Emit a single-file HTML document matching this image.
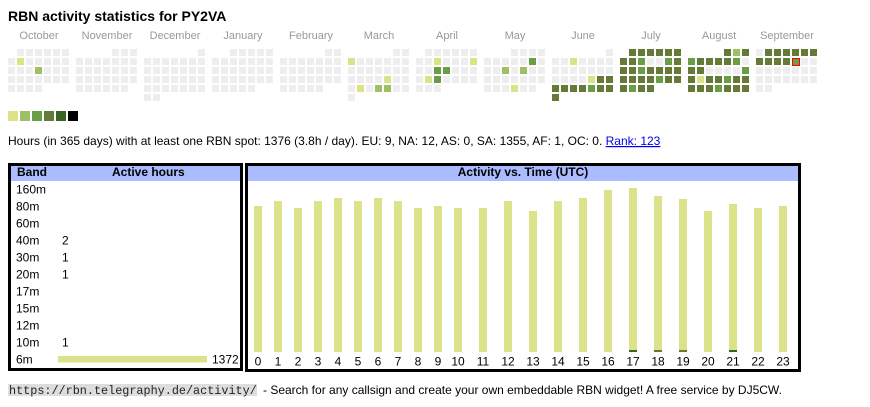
<!DOCTYPE html>
<html><head><meta charset="utf-8"><style>
html,body{margin:0;padding:0;background:#fff;width:870px;height:407px;overflow:hidden}
svg{display:block}
text{font-family:"Liberation Sans",Arial,sans-serif}
</style></head><body>
<svg width="870" height="407" viewBox="0 0 870 407" xmlns="http://www.w3.org/2000/svg">
<defs>
<pattern id="g" width="9" height="9" patternUnits="userSpaceOnUse"><rect width="7" height="7" fill="#eeeeee"/></pattern>
<pattern id="o" width="9" height="9" patternUnits="userSpaceOnUse"><rect width="7" height="7" fill="#667a38"/></pattern>
</defs>
<rect width="870" height="407" fill="#fff"/>
<text x="8" y="21" font-size="14" font-weight="bold" fill="#000">RBN activity statistics for PY2VA</text>
<g font-size="11" fill="#999" text-anchor="middle">
<text x="39" y="39">October</text><text x="107" y="39">November</text><text x="175" y="39">December</text><text x="243" y="39">January</text>
<text x="311" y="39">February</text><text x="379" y="39">March</text><text x="447" y="39">April</text><text x="515" y="39">May</text>
<text x="583" y="39">June</text><text x="651" y="39">July</text><text x="719" y="39">August</text><text x="787" y="39">September</text>
</g>
<!-- Oct -->
<g transform="translate(8,49)" fill="url(#g)"><rect x="9" y="0" width="52" height="7"/><rect x="0" y="9" width="61" height="25"/><rect x="0" y="36" width="34" height="7"/>
<rect x="9" y="9" width="7" height="7" fill="#dce28a"/><rect x="27" y="18" width="7" height="7" fill="#9dc066"/></g>
<!-- Nov -->
<g transform="translate(76,49)" fill="url(#g)"><rect x="36" y="0" width="25" height="7"/><rect x="0" y="9" width="61" height="25"/><rect x="0" y="36" width="52" height="7"/></g>
<!-- Dec -->
<g transform="translate(144,49)" fill="url(#g)"><rect x="54" y="0" width="7" height="7"/><rect x="0" y="9" width="61" height="34"/><rect x="0" y="45" width="16" height="7"/></g>
<!-- Jan -->
<g transform="translate(212,49)" fill="url(#g)"><rect x="18" y="0" width="43" height="7"/><rect x="0" y="9" width="61" height="25"/><rect x="0" y="36" width="43" height="7"/></g>
<!-- Feb -->
<g transform="translate(280,49)" fill="url(#g)"><rect x="45" y="0" width="16" height="7"/><rect x="0" y="9" width="61" height="25"/><rect x="0" y="36" width="43" height="7"/></g>
<!-- Mar -->
<g transform="translate(348,49)" fill="url(#g)"><rect x="45" y="0" width="16" height="7"/><rect x="0" y="9" width="61" height="34"/><rect x="0" y="45" width="7" height="7"/>
<rect x="0" y="9" width="7" height="7" fill="#dce28a"/><rect x="36" y="27" width="7" height="7" fill="#dce28a"/><rect x="9" y="36" width="7" height="7" fill="#dce28a"/>
<rect x="27" y="36" width="7" height="7" fill="#9dc066"/><rect x="36" y="36" width="7" height="7" fill="#9dc066"/></g>
<!-- Apr -->
<g transform="translate(416,49)" fill="url(#g)"><rect x="9" y="0" width="52" height="7"/><rect x="0" y="9" width="61" height="25"/><rect x="0" y="36" width="25" height="7"/>
<rect x="18" y="9" width="7" height="7" fill="#dce28a"/><rect x="54" y="9" width="7" height="7" fill="#dce28a"/><rect x="9" y="27" width="7" height="7" fill="#dce28a"/>
<rect x="18" y="18" width="7" height="7" fill="#699e46"/><rect x="27" y="18" width="7" height="7" fill="#699e46"/><rect x="18" y="27" width="7" height="7" fill="#699e46"/></g>
<!-- May -->
<g transform="translate(484,49)" fill="url(#g)"><rect x="27" y="0" width="34" height="7"/><rect x="0" y="9" width="61" height="25"/><rect x="0" y="36" width="52" height="7"/>
<rect x="45" y="9" width="7" height="7" fill="#699e46"/><rect x="18" y="18" width="7" height="7" fill="#9dc066"/><rect x="36" y="18" width="7" height="7" fill="#9dc066"/><rect x="27" y="36" width="7" height="7" fill="#dce28a"/></g>
<!-- Jun -->
<g transform="translate(552,49)" fill="url(#g)"><rect x="54" y="0" width="7" height="7"/><rect x="0" y="9" width="61" height="34"/><rect x="0" y="45" width="7" height="7"/>
<rect x="18" y="9" width="7" height="7" fill="#dce28a"/><rect x="36" y="27" width="7" height="7" fill="#dce28a"/>
<rect x="45" y="27" width="16" height="7" fill="url(#o)"/><rect x="0" y="36" width="61" height="7" fill="url(#o)"/><rect x="0" y="45" width="7" height="7" fill="url(#o)"/>
<rect x="36" y="36" width="7" height="7" fill="#699e46"/></g>
<!-- Jul -->
<g transform="translate(620,49)" fill="url(#o)"><rect x="9" y="0" width="52" height="7"/><rect x="0" y="9" width="61" height="25"/><rect x="0" y="36" width="34" height="7"/>
<rect x="27" y="9" width="16" height="7" fill="url(#g)"/>
<g fill="#699e46"><rect x="18" y="9" width="7" height="7"/><rect x="45" y="9" width="7" height="7"/><rect x="18" y="18" width="7" height="7"/><rect x="36" y="27" width="7" height="7"/><rect x="9" y="36" width="7" height="7"/></g></g>
<!-- Aug -->
<g transform="translate(688,49)" fill="url(#o)"><rect x="36" y="0" width="25" height="7"/><rect x="0" y="9" width="61" height="25"/><rect x="0" y="36" width="61" height="7"/>
<rect x="54" y="9" width="7" height="7" fill="url(#g)"/><rect x="18" y="18" width="34" height="7" fill="url(#g)"/>
<rect x="45" y="0" width="7" height="7" fill="#9dc066"/><rect x="9" y="27" width="7" height="7" fill="#dce28a"/>
<g fill="#699e46"><rect x="0" y="9" width="7" height="7"/><rect x="45" y="9" width="7" height="7"/><rect x="54" y="18" width="7" height="7"/><rect x="36" y="27" width="7" height="7"/><rect x="27" y="36" width="7" height="7"/></g></g>
<!-- Sep -->
<g transform="translate(756,49)" fill="url(#g)"><rect x="0" y="0" width="61" height="34"/><rect x="0" y="36" width="16" height="7"/>
<rect x="9" y="0" width="52" height="7" fill="url(#o)"/><rect x="0" y="9" width="34" height="7" fill="url(#o)"/>
<rect x="36.5" y="9.5" width="7" height="7" fill="#699e46" stroke="#ff0000" stroke-width="1"/></g>
<!-- legend -->
<rect x="8" y="111" width="10" height="10" fill="#dce28a"/><rect x="20" y="111" width="10" height="10" fill="#9dc066"/><rect x="32" y="111" width="10" height="10" fill="#699e46"/>
<rect x="44" y="111" width="10" height="10" fill="#667a38"/><rect x="56" y="111" width="10" height="10" fill="#3b6424"/><rect x="68" y="111" width="10" height="10" fill="#000"/>
<text x="8" y="145" font-size="12" fill="#000">Hours (in 365 days) with at least one RBN spot: 1376 (3.8h / day). EU: 9, NA: 12, AS: 0, SA: 1355, AF: 1, OC: 0. <tspan fill="#0000ee" text-decoration="underline" style="text-decoration:underline">Rank: 123</tspan></text>
<!-- left table -->
<rect x="11" y="166" width="229" height="15" fill="#aabbff"/>
<rect x="9.5" y="164.5" width="232" height="205" fill="none" stroke="#000" stroke-width="3"/>
<g font-size="12" font-weight="bold" fill="#000"><text x="17" y="176">Band</text><text x="112" y="176">Active hours</text></g>
<g font-size="12" fill="#000">
<text x="16" y="193.5">160m</text><text x="16" y="210.5">80m</text><text x="16" y="227.5">60m</text><text x="16" y="244.5">40m</text>
<text x="16" y="261.5">30m</text><text x="16" y="278.5">20m</text><text x="16" y="295.5">17m</text><text x="16" y="312.5">15m</text>
<text x="16" y="329.5">12m</text><text x="16" y="346.5">10m</text><text x="16" y="363.5">6m</text>
<text x="62" y="244.5">2</text><text x="62" y="261.5">1</text><text x="62" y="278.5">1</text><text x="62" y="346.5">1</text>
<text x="212" y="363.5">1372</text></g>
<rect x="58" y="356" width="149" height="6.5" fill="#dce28a"/>
<!-- right table -->
<rect x="248" y="166" width="550" height="15" fill="#aabbff"/>
<rect x="246.5" y="164.5" width="553" height="206" fill="none" stroke="#000" stroke-width="3"/>
<text x="523" y="176" font-size="12" font-weight="bold" text-anchor="middle" fill="#000">Activity vs. Time (UTC)</text>
<g fill="#dce28a">
<rect x="254" y="206" width="8" height="146"/><rect x="274" y="201" width="8" height="151"/><rect x="294" y="208" width="8" height="144"/><rect x="314" y="201" width="8" height="151"/>
<rect x="334" y="198" width="8" height="154"/><rect x="354" y="201" width="8" height="151"/><rect x="374" y="198" width="8" height="154"/><rect x="394" y="201" width="8" height="151"/>
<rect x="414" y="208" width="8" height="144"/><rect x="434" y="206" width="8" height="146"/><rect x="454" y="208" width="8" height="144"/><rect x="479" y="208" width="8" height="144"/>
<rect x="504" y="201" width="8" height="151"/><rect x="529" y="211" width="8" height="141"/><rect x="554" y="201" width="8" height="151"/><rect x="579" y="198" width="8" height="154"/>
<rect x="604" y="190" width="8" height="162"/><rect x="629" y="188" width="8" height="164"/><rect x="654" y="196" width="8" height="156"/><rect x="679" y="199" width="8" height="153"/>
<rect x="704" y="211" width="8" height="141"/><rect x="729" y="204" width="8" height="148"/><rect x="754" y="208" width="8" height="144"/><rect x="779" y="206" width="8" height="146"/>
</g>
<rect x="629" y="350" width="8" height="2" fill="#3b6424"/><rect x="654" y="350" width="8" height="2" fill="#667a38"/>
<rect x="679" y="350" width="8" height="2" fill="#667a38"/><rect x="729" y="350" width="8" height="2" fill="#3b6424"/>
<g font-size="12" fill="#000" text-anchor="middle">
<text x="258" y="365.3">0</text><text x="278" y="365.3">1</text><text x="298" y="365.3">2</text><text x="318" y="365.3">3</text>
<text x="338" y="365.3">4</text><text x="358" y="365.3">5</text><text x="378" y="365.3">6</text><text x="398" y="365.3">7</text>
<text x="418" y="365.3">8</text><text x="438" y="365.3">9</text><text x="458" y="365.3">10</text><text x="483" y="365.3">11</text>
<text x="508" y="365.3">12</text><text x="533" y="365.3">13</text><text x="558" y="365.3">14</text><text x="583" y="365.3">15</text>
<text x="608" y="365.3">16</text><text x="633" y="365.3">17</text><text x="658" y="365.3">18</text><text x="683" y="365.3">19</text>
<text x="708" y="365.3">20</text><text x="733" y="365.3">21</text><text x="758" y="365.3">22</text><text x="783" y="365.3">23</text>
</g>
<!-- footer -->
<rect x="8" y="384" width="249" height="12" fill="#dddddd"/>
<text x="9" y="394" font-size="11.8" fill="#222" style="font-family:'Liberation Mono','Courier New',monospace">https://rbn.telegraphy.de/activity/</text>
<text x="263" y="394" font-size="12" fill="#000">- Search for any callsign and create your own embeddable RBN widget! A free service by DJ5CW.</text>
</svg>
</body></html>
